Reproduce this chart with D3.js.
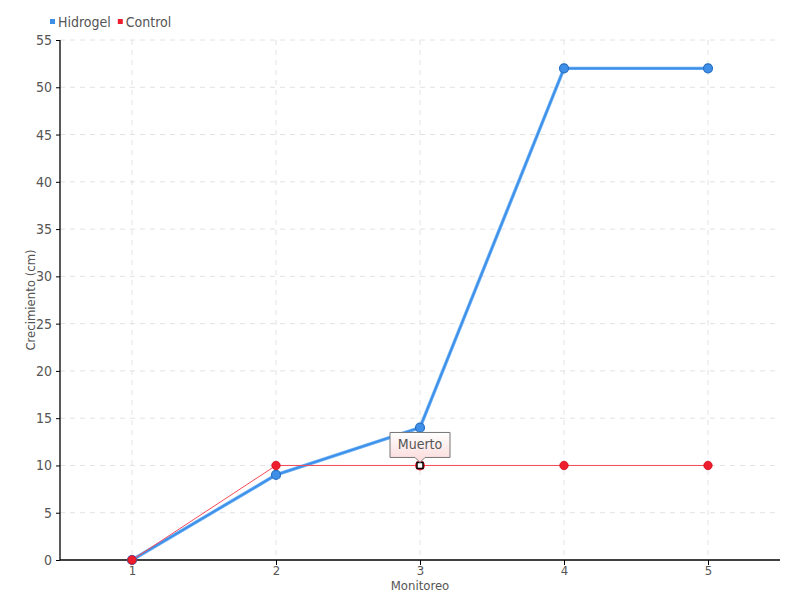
<!DOCTYPE html>
<html>
<head>
<meta charset="utf-8">
<script src="https://cdn.jsdelivr.net/npm/d3@7"></script>
<style>
  body { margin: 0; background: #fff; }
  text { font-family: "DejaVu Sans", sans-serif; font-stretch: condensed; fill: #555; }
</style>
</head>
<body>
<svg id="chart" width="800" height="600"></svg>
<script>
// datos
var monitoreo = [1, 2, 3, 4, 5]
var hidrogel = [0, 9, 14, 52, 52]
var control = [0, 10, 10, 10, 10]
var yTicks = [0, 5, 10, 15, 20, 25, 30, 35, 40, 45, 50, 55]
var seriesNames = ['Hidrogel', 'Control']
var seriesColors = ['#3d8fe8', '#ee1d2e']
var nota = { serie: 'Control', punto: 3, texto: 'Muerto' }

var svg = d3.select('#chart'),
  margin = {top: 40, right: 20, bottom: 40, left: 60},
  width = +svg.attr('width') - margin.left - margin.right,
  height = +svg.attr('height') - margin.top - margin.bottom,
  g = svg.append('g').attr('transform', 'translate(' + margin.left + ',' + margin.top + ')')

var x = d3.scaleLinear().domain([0.5, 5.5]).range([0, width])
var y = d3.scaleLinear().domain([0, 55]).range([height, 0])

// grid
g.append('g').selectAll('line').data(yTicks.slice(1)).enter().append('line')
  .attr('x1', 0).attr('x2', width)
  .attr('y1', function (d) { return y(d) }).attr('y2', function (d) { return y(d) })
  .attr('stroke', '#e2e2e2').attr('stroke-dasharray', '5,5')
g.append('g').selectAll('line').data(monitoreo).enter().append('line')
  .attr('x1', function (d) { return x(d) }).attr('x2', function (d) { return x(d) })
  .attr('y1', 0).attr('y2', height)
  .attr('stroke', '#e2e2e2').attr('stroke-dasharray', '5,5')

// ejes
var yAxis = g.append('g')
  .call(d3.axisLeft(y).tickValues(yTicks).tickSize(4).tickPadding(4))
var xAxis = g.append('g')
  .attr('transform', 'translate(0,' + height + ')')
  .call(d3.axisBottom(x).tickValues(monitoreo).tickFormat(d3.format('d')).tickSize(5).tickPadding(1))
;[yAxis, xAxis].forEach(function (a) {
  a.select('.domain').attr('stroke', '#000').attr('stroke-width', 1.3)
  a.selectAll('.tick line').attr('stroke', '#000')
  a.selectAll('text').attr('font-size', 14).attr('fill', '#555')
})
xAxis.selectAll('text').attr('font-size', 13)
xAxis.select('.domain').attr('d', 'M0,0H' + width)
yAxis.select('.domain').attr('d', 'M0,0V' + height)

g.append('text')
  .attr('x', x(3)).attr('y', height + 30)
  .attr('text-anchor', 'middle').attr('font-size', 13)
  .text('Monitoreo')
g.append('text')
  .attr('transform', 'translate(-25,' + (height / 2) + ') rotate(-90)')
  .attr('text-anchor', 'middle').attr('font-size', 13)
  .text('Crecimiento (cm)')

var line = d3.line()
  .x(function (d) { return x(d[0]) })
  .y(function (d) { return y(d[1]) })

var hData = monitoreo.map(function (m, i) { return [m, hidrogel[i]] })
var cData = monitoreo.map(function (m, i) { return [m, control[i]] })

// Hidrogel
g.append('path').datum(hData).attr('d', line)
  .attr('fill', 'none').attr('stroke', '#6ab0f7').attr('stroke-width', 3.4)
g.append('path').datum(hData).attr('d', line)
  .attr('fill', 'none').attr('stroke', seriesColors[0]).attr('stroke-width', 1.8)
g.append('g').selectAll('circle').data(hData).enter().append('circle')
  .attr('cx', function (d) { return x(d[0]) }).attr('cy', function (d) { return y(d[1]) })
  .attr('r', 4.5).attr('fill', '#3d8fe8').attr('stroke', '#2a6fc0').attr('stroke-width', 1.2)

// Control
g.append('path').datum(cData).attr('d', line)
  .attr('fill', 'none').attr('stroke', '#f44a58').attr('stroke-width', 1)
g.append('g').selectAll('circle').data(cData.filter(function (d) { return d[0] !== nota.punto }))
  .enter().append('circle')
  .attr('cx', function (d) { return x(d[0]) }).attr('cy', function (d) { return y(d[1]) })
  .attr('r', 4.2).attr('fill', seriesColors[1]).attr('stroke', '#d0101e').attr('stroke-width', 0.8)

// punto anotado
var np = cData[nota.punto - 1]
var nx = x(np[0]), ny = y(np[1])
g.append('circle').attr('cx', nx).attr('cy', ny).attr('r', 4.2)
  .attr('fill', 'none').attr('stroke', seriesColors[1]).attr('stroke-width', 1.5)
g.append('rect').attr('x', nx - 3).attr('y', ny - 3).attr('width', 6).attr('height', 6)
  .attr('fill', '#fff').attr('stroke', '#000').attr('stroke-width', 1.5)

var defs = svg.append('defs')
var grad = defs.append('linearGradient').attr('id', 'tipGrad')
  .attr('x1', 0).attr('y1', 0).attr('x2', 0).attr('y2', 1)
grad.append('stop').attr('offset', '0%').attr('stop-color', '#ffffff')
grad.append('stop').attr('offset', '100%').attr('stop-color', '#fbd9d9')

var tw = 60, th = 25, tb = ny - 8
var tip = g.append('g')
tip.append('path')
  .attr('d', 'M' + (nx - tw / 2) + ',' + (tb - th) + 'H' + (nx + tw / 2) + 'V' + tb +
    'H' + (nx + 5) + 'L' + nx + ',' + (tb + 5) + 'L' + (nx - 5) + ',' + tb + 'H' + (nx - tw / 2) + 'Z')
  .attr('fill', 'url(#tipGrad)').attr('stroke', '#777').attr('stroke-width', 1)
tip.append('text').attr('x', nx).attr('y', tb - 8)
  .attr('text-anchor', 'middle').attr('font-size', 14).attr('fill', '#444')
  .text(nota.texto)

// leyenda
var legend = svg.append('g').attr('transform', 'translate(50,22)')
var lx = 0
seriesNames.forEach(function (name, i) {
  var item = legend.append('g').attr('transform', 'translate(' + lx + ',0)')
  item.append('rect').attr('x', 0).attr('y', -3).attr('width', 5).attr('height', 5)
    .attr('fill', seriesColors[i])
  var t = item.append('text').attr('x', 8).attr('y', 0).attr('dy', '0.35em')
    .attr('font-size', 14).attr('fill', '#555').text(name)
  lx += 8 + t.node().getComputedTextLength() + 7
})
</script>
</body>
</html>
